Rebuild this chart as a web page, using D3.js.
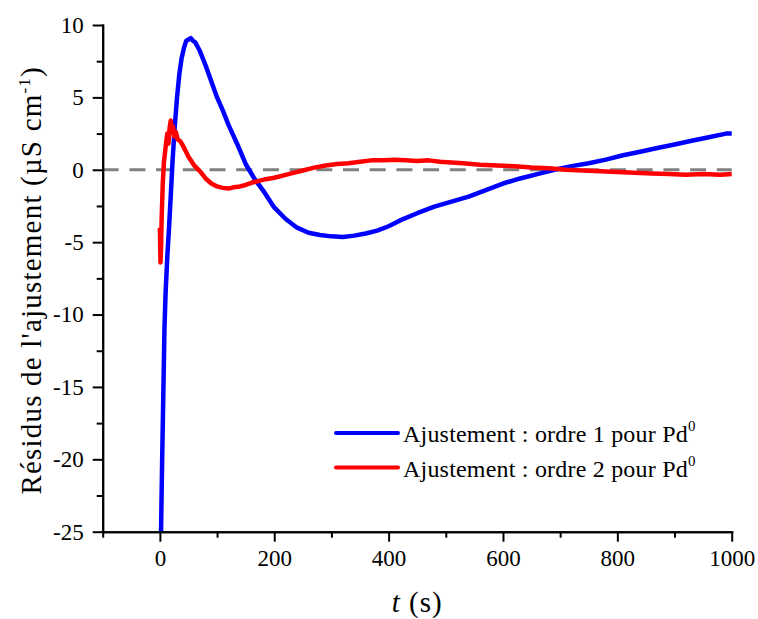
<!DOCTYPE html>
<html>
<head>
<meta charset="utf-8">
<script src="https://cdn.jsdelivr.net/npm/d3@7"></script>
<style>
    body { margin: 0; background: white; }
    svg { display: block; font-family: "Liberation Serif", serif; }
    .axis path, .axis line { stroke: black; stroke-width: 2px; }
    .axis text { font-size: 23px; fill: black; font-family: "Liberation Serif", serif; }
</style>
</head>
<body>
<svg width="758" height="619"></svg>
<script>
// ordre 1 (blue)
const blueT = [2, 4, 6, 8, 10, 13, 16, 19, 22, 26, 30, 34, 38, 42, 46, 50, 54, 58, 62, 66, 70, 80, 90, 100, 110, 120, 135, 150, 165, 180,
    200, 220, 240, 260, 280, 300, 320, 340, 360, 380, 400, 420, 450, 480, 510, 540, 570, 600, 630, 660, 690, 720, 750, 780, 810,
    840, 870, 900, 930, 960, 990, 1000];
const blueV = [-25, -20, -15.5, -11, -8.5, -6, -4, -1.8, 0.5, 3, 5, 6.6, 7.7, 8.4, 8.9, 9.0, 9.1, 8.9, 8.8, 8.5, 8.2, 7.2, 6.1, 5.0, 4.1, 3.1, 1.8, 0.4, -0.6, -1.4,
    -2.6, -3.4, -4.0, -4.35, -4.5, -4.6, -4.65, -4.55, -4.4, -4.2, -3.9, -3.5, -3.0, -2.55, -2.2, -1.85, -1.4, -0.95, -0.6,
    -0.3, 0.0, 0.25, 0.45, 0.7, 1.0, 1.25, 1.5, 1.75, 2.0, 2.25, 2.5, 2.5];

// ordre 2 (red)
const redT = [0, 1, 2, 3, 5, 7, 9, 11, 13, 15, 17, 19, 21, 23, 25, 28, 31, 35, 40, 45, 50, 55, 60, 65, 70, 80, 90, 100, 110, 120,
    130, 140, 150, 160, 170, 185, 200, 215, 230, 250, 270, 290, 310, 330, 350, 370, 390, 410, 430, 450, 470, 490, 510, 530,
    560, 590, 620, 650, 680, 710, 740, 770, 800, 830, 860, 890, 920, 950, 980, 1000];
const redV = [-4.0, -6.4, -5.5, -3.5, -1.0, 0.5, 1.2, 1.9, 2.5, 1.8, 2.9, 3.4, 2.6, 3.0, 2.3, 2.6, 2.1, 2.0, 1.7, 1.3, 0.9, 0.6, 0.3, 0.1, -0.1, -0.6, -0.95, -1.15, -1.25, -1.3,
    -1.2, -1.15, -1.05, -0.9, -0.8, -0.65, -0.55, -0.4, -0.25, -0.05, 0.15, 0.3, 0.4, 0.45, 0.55, 0.65, 0.65, 0.7, 0.65, 0.6,
    0.65, 0.55, 0.5, 0.45, 0.35, 0.3, 0.25, 0.15, 0.1, 0.0, -0.05, -0.1, -0.15, -0.2, -0.25, -0.3, -0.35, -0.3, -0.35, -0.3];

const xMajor = [0, 200, 400, 600, 800, 1000];
const xMinor = [-100, 100, 300, 500, 700, 900];
const yMajor = [10, 5, 0, -5, -10, -15, -20, -25];
const yMinor = [7.5, 2.5, -2.5, -7.5, -12.5, -17.5, -22.5];

const legendLabels = ["Ajustement : ordre 1 pour Pd", "Ajustement : ordre 2 pour Pd"];
const colors = ["#0000ff", "#ff0000"];

const svg = d3.select("svg");
const x = d3.scaleLinear().domain([-100, 1000]).range([102.7, 731.7]);
const y = d3.scaleLinear().domain([-25, 10]).range([531.7, 25]);

svg.append("defs").append("clipPath").attr("id", "clip")
    .append("rect")
    .attr("x", x(-100)).attr("y", y(10) - 5)
    .attr("width", x(1000) - x(-100) + 5).attr("height", y(-25) - y(10) + 5);

// zero reference line
svg.append("line")
    .attr("x1", x(-100)).attr("x2", x(1000))
    .attr("y1", y(0)).attr("y2", y(0))
    .attr("stroke", "#808080").attr("stroke-width", 3)
    .attr("stroke-dasharray", "16,10.7");

const line = d3.line().x(d => x(d[0])).y(d => y(d[1]));
const series = [
    d3.zip(blueT, blueV),
    d3.zip(redT, redV)
];
svg.append("g").attr("clip-path", "url(#clip)")
    .selectAll("path")
    .data(series)
    .enter()
    .append("path")
        .attr("d", line)
        .attr("fill", "none")
        .attr("stroke", (d, i) => colors[i])
        .attr("stroke-width", 4.5)
        .attr("stroke-linejoin", "round");

// axes
const fmt = d => String(d);
const xAxis = svg.append("g").attr("class", "axis")
    .attr("transform", `translate(0,${y(-25)})`);
xAxis.call(d3.axisBottom(x).tickValues(xMajor).tickSize(10).tickPadding(8).tickSizeOuter(0).tickFormat(fmt));
xAxis.append("g").call(d3.axisBottom(x).tickValues(xMinor).tickSize(6).tickFormat("").tickSizeOuter(0));

const yAxis = svg.append("g").attr("class", "axis")
    .attr("transform", `translate(${x(-100)},0)`);
yAxis.call(d3.axisLeft(y).tickValues(yMajor).tickSize(10).tickPadding(9).tickSizeOuter(0).tickFormat(fmt));
yAxis.append("g").call(d3.axisLeft(y).tickValues(yMinor).tickSize(6).tickFormat("").tickSizeOuter(0));
svg.selectAll(".axis .domain").attr("stroke-linecap", "square");

// axis titles
const yTitle = svg.append("text")
    .attr("transform", `translate(41,${(y(10) + y(-25)) / 2 + 2}) rotate(-90)`)
    .attr("text-anchor", "middle")
    .style("font-size", "29px")
    .style("letter-spacing", "1.2px");
yTitle.append("tspan").text("Résidus de l'ajustement (µS cm");
yTitle.append("tspan").attr("dy", -11).style("font-size", "17px").text("-1");
yTitle.append("tspan").attr("dy", 11).text(")");

const xTitle = svg.append("text")
    .attr("x", (x(-100) + x(1000)) / 2)
    .attr("y", 612)
    .attr("text-anchor", "middle")
    .style("font-size", "29px")
    .style("letter-spacing", "1px");
xTitle.append("tspan").style("font-style", "italic").text("t");
xTitle.append("tspan").text(" (s)");

// legend
const legend = svg.append("g").selectAll("g")
    .data(legendLabels)
    .enter()
    .append("g")
    .attr("transform", (d, i) => `translate(336,${433 + i * 34.5})`);
legend.append("line")
    .attr("x1", 0).attr("x2", 62)
    .attr("stroke", (d, i) => colors[i])
    .attr("stroke-width", 4)
    .attr("stroke-linecap", "round");
const lt = legend.append("text")
    .attr("x", 67).attr("y", 9)
    .style("font-size", "24px")
    .style("letter-spacing", "0.2px");
lt.append("tspan").text(d => d);
lt.append("tspan").attr("dy", -11).style("font-size", "15px").text("0");
</script>
</body>
</html>
